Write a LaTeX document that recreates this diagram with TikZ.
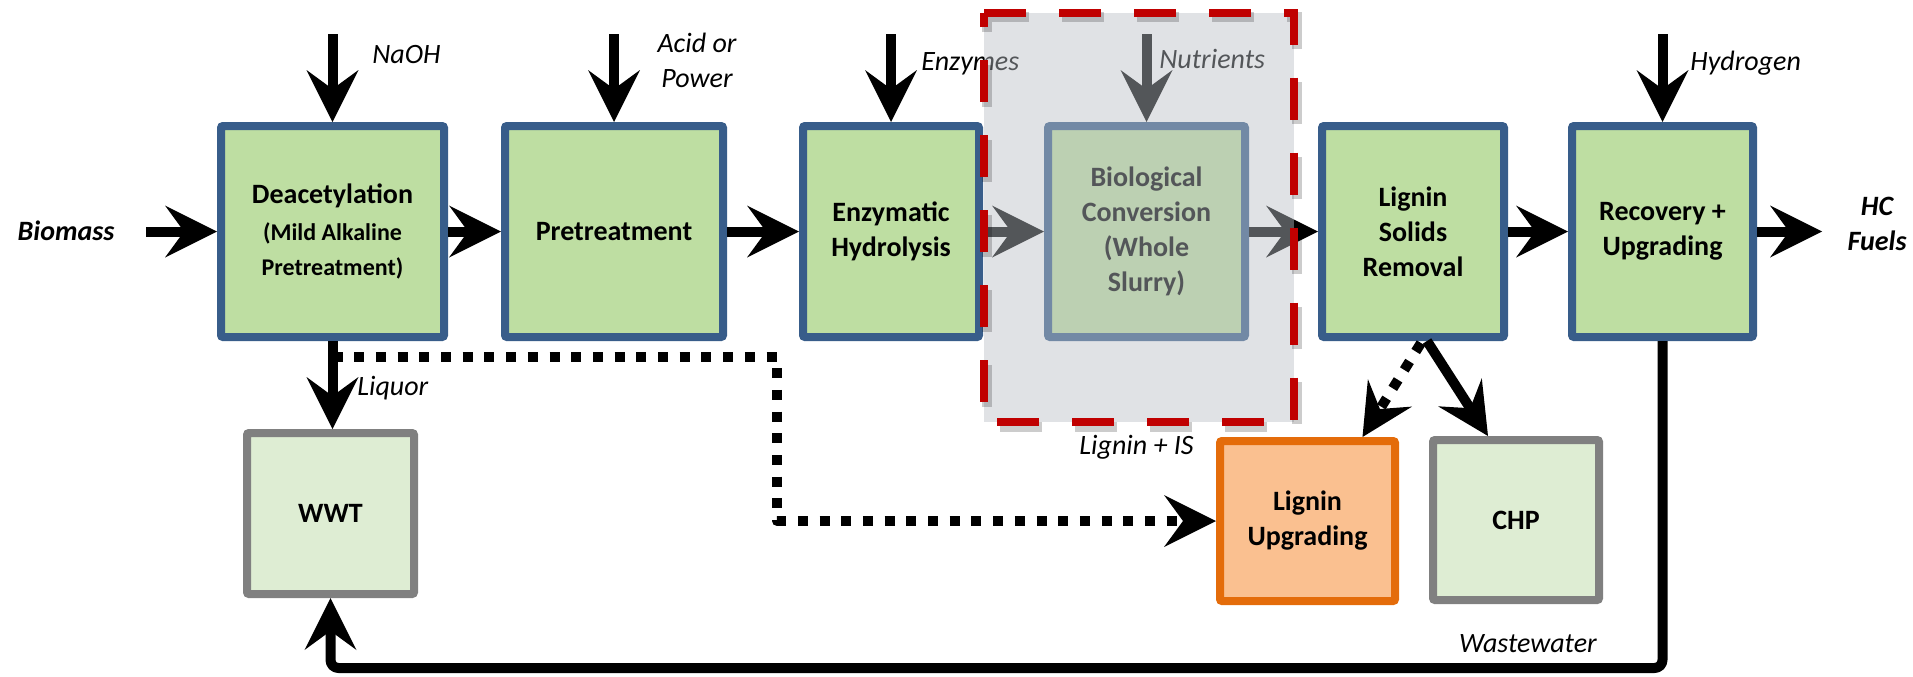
\documentclass[tikz,border=0pt]{standalone}
\usepackage{fontspec}
\setmainfont{Carlito}
\usetikzlibrary{arrows.meta,calc}

\definecolor{procblue}{RGB}{56,93,138}
\definecolor{procgreen}{RGB}{190,222,162}
\definecolor{palegreen}{RGB}{222,237,211}
\definecolor{auxgray}{RGB}{128,128,128}
\definecolor{lignorange}{RGB}{228,108,10}
\definecolor{lignpeach}{RGB}{250,192,144}
\definecolor{scopered}{RGB}{192,0,0}
\definecolor{scopegray}{RGB}{186,191,198}

\newcommand{\smallline}{\fontsize{12}{15}\selectfont}

\tikzset{
  unit/.style={draw=procblue, fill=procgreen, line width=4pt, rounded corners=1pt,
    minimum height=105.5pt, inner sep=2pt, align=center,
    font=\bfseries\fontsize{14}{17.5}\selectfont},
  side/.style={unit, draw=auxgray, fill=palegreen, minimum height=80pt},
  flow/.style={line width=5pt, line join=round,
    -{Stealth[length=26pt,width=26pt,inset=9.5pt,line width=0pt]}},
  dotflow/.style={flow, dash pattern=on 5pt off 5.85pt},
  tag/.style={inner sep=0pt, font=\itshape\fontsize{14}{17.5}\selectfont},
  scopeline/.style={scopered, line width=4pt, dash pattern=on 21pt off 16.5pt},
}

\begin{document}
\begin{tikzpicture}[x=0.5pt,y=-0.5pt]
    \useasboundingbox (0,0) rectangle (1913,676);
    %% process units
    \node[unit, minimum width=111.5pt] (deacet) at (332.5,231.5)
        {Deacetylation\\[1pt]\smallline(Mild Alkaline\\\smallline Pretreatment)};
    \node[unit, minimum width=109pt] (pretreat) at (614,231.5) {Pretreatment};
    \node[unit, minimum width=88pt] (enzhyd) at (891,231.5) {Enzymatic\\Hydrolysis};
    \node[unit, minimum width=98.5pt] (bioconv) at (1146.5,231.5) {Biological\\Conversion\\(Whole\\Slurry)};
    \node[unit, minimum width=91pt] (ligsol) at (1413,231.5) {Lignin\\Solids\\Removal};
    \node[unit, minimum width=90.5pt] (recov) at (1662.5,231.5) {Recovery +\\Upgrading};
    %% side units
    \node[side, minimum width=83.5pt, minimum height=80.5pt] (wwt) at (330.5,513.5) {WWT};
    \node[side, draw=lignorange, fill=lignpeach, minimum width=87.5pt] (ligupg) at (1307.5,521) {Lignin\\Upgrading};
    \node[side, minimum width=83pt] (chp) at (1516,520) {CHP};

    %% main line
    \draw[flow] ($(deacet.west)+(-71,0)$) -- (deacet.west);
    \draw[flow] (deacet) -- (pretreat);
    \draw[flow] (pretreat) -- (enzhyd);
    \draw[flow] (enzhyd) -- (bioconv);
    \draw[flow] (bioconv) -- (ligsol);
    \draw[flow] (ligsol) -- (recov);
    \draw[flow] (recov.east) -- ++(65,0);
    %% feeds
    \foreach \u in {deacet,pretreat,enzhyd,bioconv,recov}
        \draw[flow] ($(\u.north)+(0,-88)$) -- (\u.north);
    %% side streams
    \coordinate (bend) at (777,521);
    \draw[flow] (deacet.south) -- (deacet.south |- wwt.north);
    \draw[dotflow] ($(deacet.south)+(0,16)$) -| (bend) -- (ligupg.west);
    \draw[dotflow] ($(ligsol.south)+(8,2)$) -- ($(ligupg.north)+(55,0)$);
    \draw[flow] ($(ligsol.south)+(14,0)$) -- ($(chp.north)+(-28,0)$);
    \draw[flow, rounded corners=4pt] (recov.south) -- ++(0,327) -| (wwt.south);

    %% labels
    \node[tag, font=\bfseries\itshape\fontsize{14}{17.5}\selectfont, anchor=base] (biomass) at (66,240) {Biomass};
    \node[tag, anchor=base west] (naoh) at (372,63) {NaOH};
    \node[tag, align=center] (acid) at (697,60) {Acid or\\Power};
    \node[tag, anchor=base west] (enzymes) at (921,70) {Enzymes};
    \node[tag, anchor=base west] (nutrients) at (1159,68) {Nutrients};
    \node[tag, anchor=base west] (hydrogen) at (1690,70) {Hydrogen};
    \node[tag, font=\bfseries\itshape\fontsize{14}{17.5}\selectfont, align=center] (hcfuels) at (1877,223.5) {HC\\Fuels};
    \node[tag, anchor=base west] (liquor) at (357,395) {Liquor};
    \node[tag, anchor=base] (ligninis) at (1136.5,454) {Lignin + IS};
    \node[tag, anchor=base] (wastewater) at (1528,652) {Wastewater};

    %% whole slurry scope
    \fill[scopegray, fill opacity=0.45] (984,12.5) rectangle (1294,422);
    \draw[scopeline, black, draw opacity=0.2, line width=5pt] (987,17) -- (1297,17) -- (1297,427) -- (987,427) -- cycle;
    \draw[scopeline] (984,12.5) -- (1294,12.5) -- (1294,422) -- (984,422) -- cycle;
\end{tikzpicture}
\end{document}
